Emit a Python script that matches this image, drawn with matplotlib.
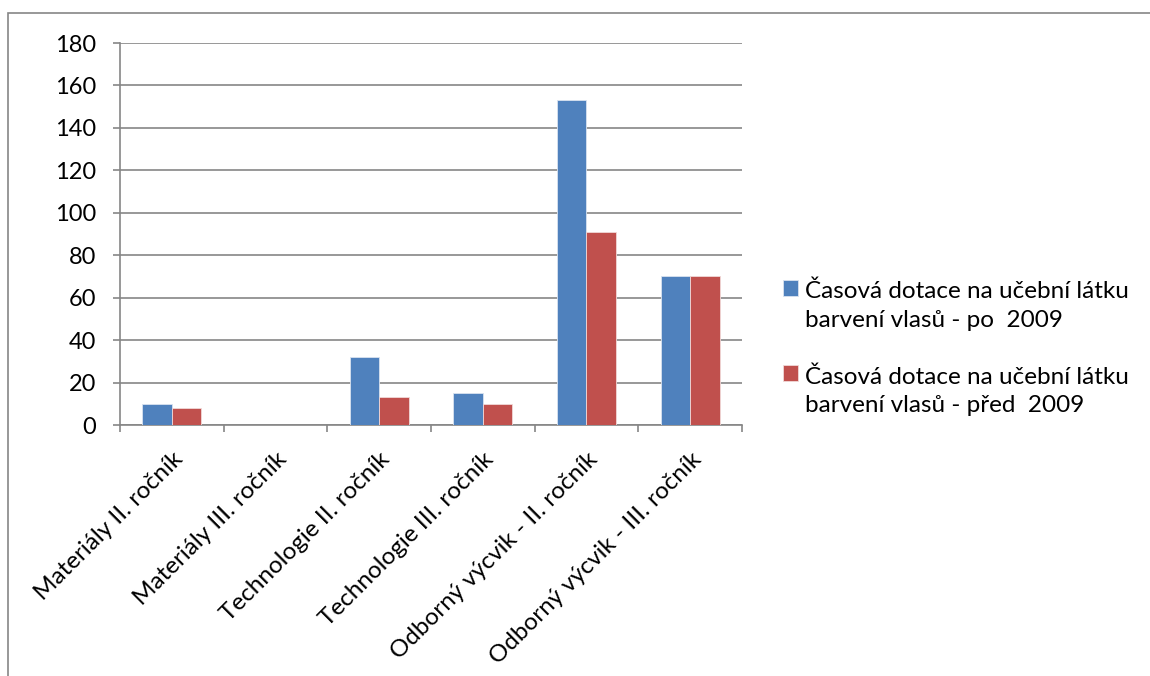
import matplotlib.pyplot as plt
import matplotlib.patches as mpatches
import numpy as np

plt.rcParams['font.family'] = ['Lato', 'DejaVu Sans']

categories = ['Materiály II. ročník', 'Materiály III. ročník', 'Technologie II. ročník',
              'Technologie III. ročník', 'Odborný výcvik - II. ročník', 'Odborný výcvik - III. ročník']
po_2009 = [10, 0, 32, 15, 153, 70]
pred_2009 = [8, 0, 13, 10, 91, 70]
series_labels = ['Časová dotace na učební látku\nbarvení vlasů - po  2009',
                 'Časová dotace na učební látku\nbarvení vlasů - před  2009']
y_ticks = [0, 20, 40, 60, 80, 100, 120, 140, 160, 180]

grid_col = '#868686'
fs = 17.5

fig = plt.figure(figsize=(11.5, 6.76), dpi=100)
ax = fig.add_axes([120/1150, 1 - 425/676, 622/1150, 382/676])

x = np.arange(len(categories))
w = 1 / 3.5
ax.bar(x - w/2, po_2009, w, color='#4F81BD', edgecolor='#D9E2F0', linewidth=0.6,
       label=series_labels[0], zorder=3)
ax.bar(x + w/2, pred_2009, w, color='#C0504D', edgecolor='#F0D9D8', linewidth=0.6,
       label=series_labels[1], zorder=3)

ax.set_xlim(-0.5, len(categories) - 0.5)
ax.set_ylim(0, 180)
ax.set_yticks(y_ticks)
ax.yaxis.grid(True, color=grid_col, linewidth=1.2, zorder=0)
ax.tick_params(axis='y', length=5, width=1.2, color=grid_col, labelsize=17, pad=12)

# category ticks at boundaries, labels at centers
ax.set_xticks(np.arange(len(categories) + 1) - 0.5)
ax.set_xticklabels([])
ax.set_xticks(x, minor=True)
ax.set_xticklabels(categories, minor=True, rotation=45, ha='right',
                   rotation_mode='anchor', fontsize=fs)
ax.tick_params(axis='x', which='major', length=5, width=1.2, color=grid_col)
ax.tick_params(axis='x', which='minor', length=0, pad=17)

for side in ['top', 'right']:
    ax.spines[side].set_visible(False)
for side in ['left', 'bottom']:
    ax.spines[side].set_color(grid_col)
    ax.spines[side].set_linewidth(1.2)

leg = fig.legend(loc='upper left', bbox_to_anchor=(761/1150, 1 - 259/676), frameon=False,
                 fontsize=fs, handlelength=0.62, handleheight=0.62, handletextpad=0.3,
                 labelspacing=1.45)
for t in leg.get_texts():
    t.set_linespacing(1.45)
# put the colour square beside the first line of each two-line label
for h in leg.legend_handles:
    h.set_y(h.get_y() + 13)

# chart area border
fig.patches.append(mpatches.Rectangle((8/1150, -0.1), 2, 1.1 - 13/676,
                                      transform=fig.transFigure, fill=False,
                                      edgecolor='#868686', linewidth=1.2))

fig.savefig('out.png', dpi=100)
